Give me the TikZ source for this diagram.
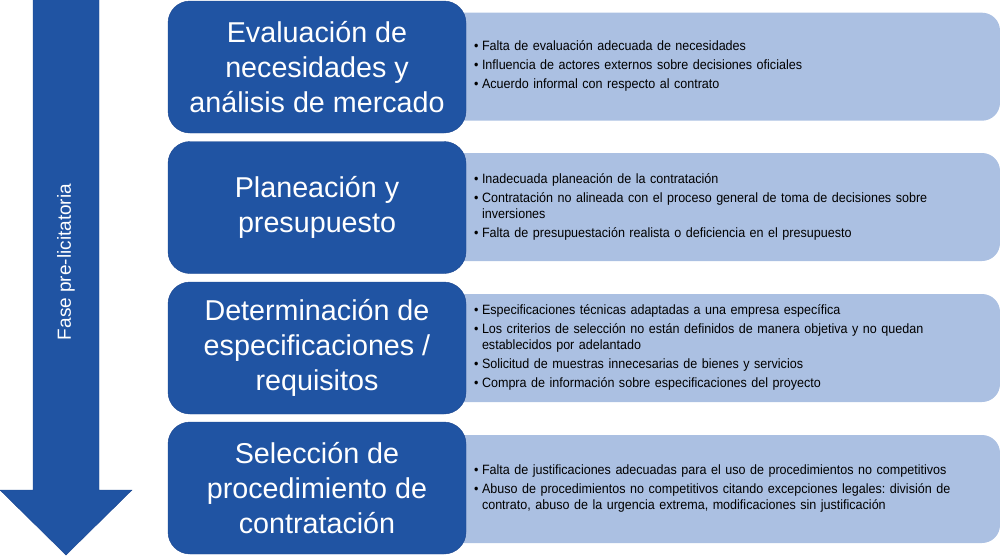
\documentclass[tikz,border=0pt]{standalone}
\usepackage{fontspec}
\setmainfont{Liberation Sans}
\newfontfamily\narrowfont{Liberation Sans}[FakeStretch=0.93]
\usepackage{array}
\frenchspacing
\definecolor{darkblue}{RGB}{32,84,163}
\definecolor{edgeblue}{RGB}{26,70,144}
\definecolor{paleblue}{RGB}{171,192,226}
\newcommand\stagefont{\fontsize{28.7}{35}\selectfont}
\newcommand\riskfont{\narrowfont\fontsize{13.5}{16}\selectfont}
\tikzset{
  stage/.style={rectangle,rounded corners=22pt,fill=darkblue,draw=edgeblue,thin,
    minimum width=298pt,minimum height=132pt,text=white,align=center,font=\stagefont},
  risks/.style={rectangle,rounded corners=18pt,fill=paleblue,
    minimum width=560pt,minimum height=108pt,text width=492pt,inner xsep=34pt,
    align=left,font=\riskfont}
}
\begin{document}
\begin{tikzpicture}[x=1pt,y=-1pt]
  \useasboundingbox (0,0) rectangle (1000,557);

  % fase arrow
  \draw[fill=darkblue,draw=edgeblue] (33,-2) -- (99,-2) -- (99,490) -- (132,490)
    -- (66,555) -- (0,490) -- (33,490) -- cycle;
  \node[rotate=90,text=white,font=\fontsize{19}{22}\selectfont] (fase) at (66,262) {Fase pre-licitatoria};

  % risks
  \node[risks] (evalr) at (720,66.7) {\begin{tabular}{@{}p{8pt}@{}l@{}}
    \textbullet & Falta de evaluación adecuada de necesidades\\[3pt]
    \textbullet & Influencia de actores externos sobre decisiones oficiales\\[3pt]
    \textbullet & Acuerdo informal con respecto al contrato
  \end{tabular}};
  \node[risks] (planr) at (720,207) {\begin{tabular}{@{}p{8pt}@{}l@{}}
    \textbullet & Inadecuada planeación de la contratación\\[3pt]
    \textbullet & Contratación no alineada con el proceso general de toma de decisiones sobre\\
                & inversiones\\[3pt]
    \textbullet & Falta de presupuestación realista o deficiencia en el presupuesto
  \end{tabular}};
  \node[risks] (specr) at (720,348) {\begin{tabular}{@{}p{8pt}@{}l@{}}
    \textbullet & Especificaciones técnicas adaptadas a una empresa específica\\[3pt]
    \textbullet & Los criterios de selección no están definidos de manera objetiva y no quedan\\
                & establecidos por adelantado\\[3pt]
    \textbullet & Solicitud de muestras innecesarias de bienes y servicios\\[3pt]
    \textbullet & Compra de información sobre especificaciones del proyecto
  \end{tabular}};
  \node[risks] (procr) at (720,489) {\begin{tabular}{@{}p{8pt}@{}l@{}}
    \textbullet & Falta de justificaciones adecuadas para el uso de procedimientos no competitivos\\[3pt]
    \textbullet & Abuso de procedimientos no competitivos citando excepciones legales: división de\\
                & contrato, abuso de la urgencia extrema, modificaciones sin justificación
  \end{tabular}};

  % stages
  \node[stage] (eval) at (317,67) {Evaluación de\\necesidades y\\análisis de mercado};
  \node[stage] (plan) at (317,207.5) {Planeación y\\presupuesto};
  \node[stage] (spec) at (317,348) {Determinación de\\especificaciones /\\requisitos};
  \node[stage] (proc) at (317,488) {Selección de\\procedimiento de\\contratación};
\end{tikzpicture}
\end{document}
